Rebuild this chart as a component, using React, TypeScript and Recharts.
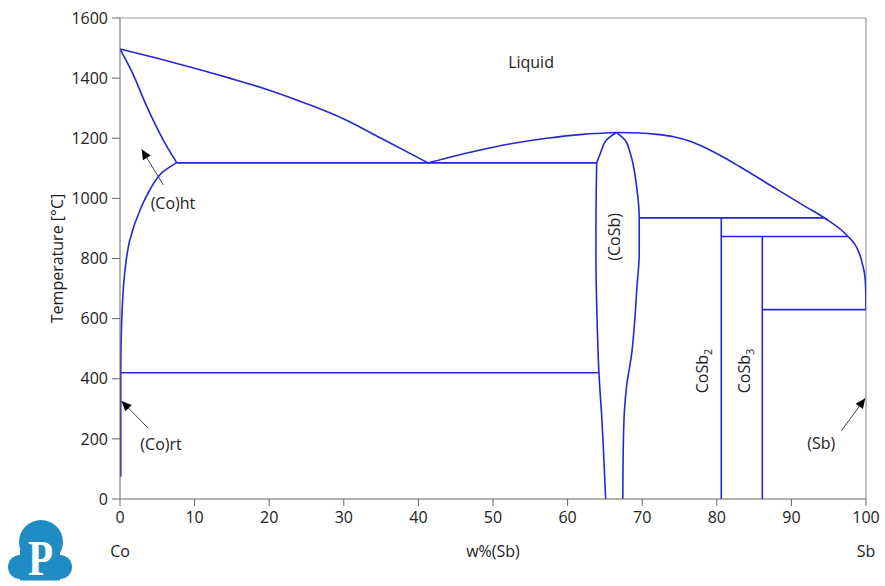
import { LineChart, Line, XAxis, YAxis, ReferenceLine, ReferenceDot } from 'recharts';

// phase boundaries, [w%(Sb), T °C]
const liquidusCo = [[0, 1497], [5, 1466], [10, 1433], [14.7, 1400], [20, 1360], [25, 1315], [30, 1264], [35, 1200], [41.3, 1118]];
const solidusCoHt = [[0, 1497], [1.7, 1416], [3.6, 1305], [5.8, 1194], [7.6, 1119]];
const solvusCo = [[7.6, 1119], [5.8, 1089], [4.0, 1028], [2.8, 968], [1.3, 860], [0.6, 745], [0.3, 635], [0.15, 520], [0.1, 420], [0.1, 74]];
const liquidusMid = [[41.3, 1118], [45, 1142], [48.3, 1161], [52, 1180], [57.2, 1200], [62, 1213], [66.56, 1219]];
const liquidusSb = [[66.56, 1219], [69.7, 1217.5], [72, 1213], [74.2, 1205], [76.4, 1190], [78.6, 1167], [80.9, 1137], [83.1, 1105], [87.6, 1037], [92.0, 971], [94.5, 934], [97.6, 873], [98.7, 839], [99.5, 784], [99.9, 729], [99.98, 673], [100, 630]];
const cosbLeftTop = [[66.56, 1219], [65.2, 1194], [64.4, 1150], [63.9, 1118]];
const cosbLeft = [[63.9, 1118], [63.8, 900], [63.8, 800], [63.95, 600], [64.2, 420], [64.6, 263], [65.1, 0]];
const cosbRight = [[66.56, 1219], [67.7, 1194], [68.4, 1150], [69.25, 1039], [69.6, 935], [69.6, 817], [69.3, 706], [69.0, 595], [68.6, 485], [67.9, 374], [67.6, 286], [67.45, 152], [67.4, 0]];
const eutectic1118 = [[7.6, 1118], [63.9, 1118]];
const eutectoid420 = [[0.1, 420], [64.2, 420]];
const peritectic935 = [[69.6, 935], [94.5, 935]];
const peritectic873 = [[80.6, 873], [97.6, 873]];
const eutectic630 = [[86.1, 630], [100, 630]];
const cosb2 = [[80.6, 935], [80.6, 0]];
const cosb3 = [[86.1, 873], [86.1, 0]];

// arrows: tail then tip
const arrowCoHt = [[5.8, 1045], [2.9, 1163]];
const arrowCoRt = [[3.8, 235], [0.2, 326]];
const arrowSb = [[96.7, 227], [99.9, 335]];

const xTicks = [0, 10, 20, 30, 40, 50, 60, 70, 80, 90, 100];
const yTicks = [0, 200, 400, 600, 800, 1000, 1200, 1400, 1600];

const labelNames = ['Liquid', '(Co)ht', '(Co)rt', '(Sb)', 'Co', 'Sb'];
const labelX = [55.1, 7.1, 5.5, 94.0, 0, 100];
const labelT = [1454, 985, 183, 186, -173, -173];

const vertNames = ['(CoSb)', 'CoSb', 'CoSb'];
const vertSubs = ['', '2', '3'];
const vertX = [66.2, 78.0, 83.6];
const vertT = [872, 426, 426];

const BLUE = '#2626d2';
const FONT = '"Open Sans", sans-serif';

const pts = (a: number[][]) => a.map(([x, t]) => ({ x, t }));

const curves = [
  { id: 'liqCo', data: liquidusCo, type: 'monotoneX' },
  { id: 'solCo', data: solidusCoHt, type: 'monotoneX' },
  { id: 'solvCo', data: solvusCo, type: 'monotoneY' },
  { id: 'liqMid', data: liquidusMid, type: 'monotoneX' },
  { id: 'liqSb', data: liquidusSb, type: 'monotoneX' },
  { id: 'cosbLT', data: cosbLeftTop, type: 'monotoneY' },
  { id: 'cosbL', data: cosbLeft, type: 'monotoneY' },
  { id: 'cosbR', data: cosbRight, type: 'monotoneY' },
  { id: 'e1118', data: eutectic1118, type: 'linear' },
  { id: 'e420', data: eutectoid420, type: 'linear' },
  { id: 'p935', data: peritectic935, type: 'linear' },
  { id: 'p873', data: peritectic873, type: 'linear' },
  { id: 'e630', data: eutectic630, type: 'linear' },
  { id: 'cosb2', data: cosb2, type: 'linear' },
  { id: 'cosb3', data: cosb3, type: 'linear' },
];

const arrows = [
  { id: 'aCoHt', data: arrowCoHt },
  { id: 'aCoRt', data: arrowCoRt },
  { id: 'aSb', data: arrowSb },
];

function makeArrowHead() {
  let tail: { x: number; y: number } | null = null;
  return (props: any) => {
    const { cx, cy, index } = props;
    const key = props.key ?? `ah-${index}`;
    if (index === 0) {
      tail = { x: cx, y: cy };
      return <g key={key} />;
    }
    const prev = props.points?.[index - 1] ?? tail;
    if (!prev) return <g key={key} />;
    const ang = (Math.atan2(cy - prev.y, cx - prev.x) * 180) / Math.PI;
    return (
      <path
        key={key}
        d="M0,0 L-10,-4.5 L-10,4.5 Z"
        transform={`translate(${cx},${cy}) rotate(${ang})`}
        fill="#000"
      />
    );
  };
}

function Logo() {
  return (
    <svg width={885} height={586} style={{ position: 'absolute', left: 0, top: 0, pointerEvents: 'none' }}>
      <g fill="#1f8dc4">
        <circle cx={41} cy={542} r={22} />
        <circle cx={20} cy={567} r={12} />
        <circle cx={60} cy={567} r={12} />
        <rect x={20} y={550} width={40} height={30.5} />
      </g>
      <text
        x={0}
        y={0}
        transform="translate(40.5,575) scale(0.82,1)"
        textAnchor="middle"
        fill="#fff"
        fontFamily='"Liberation Serif", serif'
        fontWeight="bold"
        fontSize={50}
      >
        P
      </text>
    </svg>
  );
}

export default function App() {
  const tickStyle = { fill: '#222', fontSize: 16, fontFamily: FONT };
  return (
    <div style={{ position: 'absolute', left: 0, top: 0, width: 885, height: 586, background: '#fff' }}>
      <LineChart width={885} height={586} margin={{ top: 18, right: 19, left: 60, bottom: 57 }}>
        <XAxis
          type="number"
          dataKey="x"
          domain={[0, 100]}
          ticks={xTicks}
          allowDataOverflow
          stroke="#666"
          tickSize={7}
          tickMargin={6}
          height={30}
          tick={tickStyle}
          label={{
            content: ({ viewBox }: any) => (
              <text
                x={viewBox.x + viewBox.width / 2}
                y={557}
                textAnchor="middle"
                fill="#222"
                fontSize={16}
                fontFamily={FONT}
              >
                w%(Sb)
              </text>
            ),
          }}
        />
        <YAxis
          type="number"
          dataKey="t"
          domain={[0, 1600]}
          ticks={yTicks}
          allowDataOverflow
          stroke="#666"
          tickSize={8}
          tickMargin={4}
          width={60}
          tick={tickStyle}
          label={{
            content: ({ viewBox }: any) => {
              const cx = 57;
              const cy = viewBox.y + viewBox.height / 2;
              return (
                <text
                  x={cx}
                  y={cy}
                  transform={`rotate(-90, ${cx}, ${cy})`}
                  textAnchor="middle"
                  dominantBaseline="central"
                  fill="#222"
                  fontSize={16}
                  fontFamily={FONT}
                >
                  Temperature [°C]
                </text>
              );
            },
          }}
        />
        <ReferenceLine y={1600} stroke="#999" strokeWidth={1.2} />
        <ReferenceLine x={100} stroke="#999" strokeWidth={1.2} />
        {curves.map((c) => (
          <Line
            key={c.id}
            data={pts(c.data)}
            dataKey="t"
            type={c.type as any}
            stroke={BLUE}
            strokeWidth={1.6}
            dot={false}
            activeDot={false}
            isAnimationActive={false}
          />
        ))}
        {arrows.map((a) => (
          <Line
            key={a.id}
            data={pts(a.data)}
            dataKey="t"
            type="linear"
            stroke="#444"
            strokeWidth={1}
            dot={makeArrowHead()}
            activeDot={false}
            isAnimationActive={false}
          />
        ))}
        {labelNames.map((name, i) => (
          <ReferenceDot
            key={`lbl-${i}`}
            x={labelX[i]}
            y={labelT[i]}
            r={0}
            ifOverflow="visible"
            shape={(p: any) => (
              <text
                x={p.cx}
                y={p.cy}
                textAnchor="middle"
                dominantBaseline="central"
                fill="#222"
                fontSize={16}
                fontFamily={FONT}
              >
                {name}
              </text>
            )}
          />
        ))}
        {vertNames.map((name, i) => (
          <ReferenceDot
            key={`vlbl-${i}`}
            x={vertX[i]}
            y={vertT[i]}
            r={0}
            ifOverflow="visible"
            shape={(p: any) => (
              <text
                x={p.cx}
                y={p.cy}
                transform={`rotate(-90, ${p.cx}, ${p.cy})`}
                textAnchor="middle"
                dominantBaseline="central"
                fill="#222"
                fontSize={16}
                fontFamily={FONT}
              >
                {name}
                {vertSubs[i] && (
                  <tspan fontSize={11} dy={5}>
                    {vertSubs[i]}
                  </tspan>
                )}
              </text>
            )}
          />
        ))}
      </LineChart>
      <Logo />
    </div>
  );
}
